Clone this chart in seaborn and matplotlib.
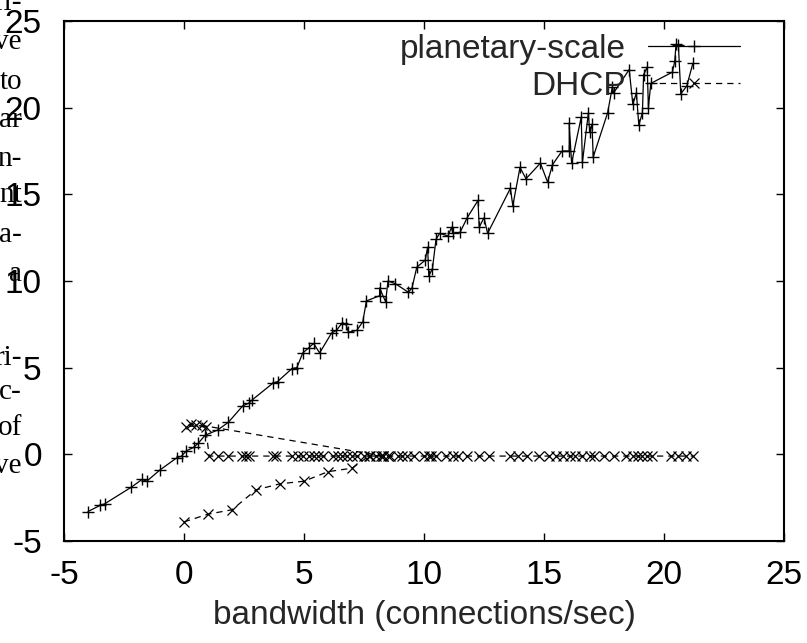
import matplotlib
matplotlib.use("Agg")
import matplotlib.pyplot as plt
import numpy as np
import pandas as pd
import seaborn as sns

# planetary-scale series in drawing order
plan_x = [-4.0, -3.5, -3.3, -2.2, -1.75, -1.55, -1.0, -0.3, -0.1, 0.1, 0.4, 0.6,
          0.88, 1.4, 1.85, 2.45, 2.7, 2.85, 3.7, 3.9, 4.5, 4.7, 4.95, 5.2, 5.4,
          5.65, 6.15, 6.35, 6.6, 6.75, 6.85, 7.2, 7.45, 7.6, 8.15, 8.15, 8.4, 8.5,
          8.8, 9.35, 9.5, 9.7, 10.05, 10.15, 10.2, 10.35, 10.5, 10.65, 11.0, 11.15,
          11.2, 11.5, 11.8, 12.25, 12.3, 12.5, 12.65, 13.6, 13.7, 14.0, 14.25,
          14.85, 15.15, 15.35, 15.75, 16.05, 16.05, 16.15, 16.55, 16.6, 16.85,
          16.9, 17.0, 17.05, 17.65, 17.85, 17.9, 18.55, 18.7, 18.85, 18.95, 19.1,
          19.15, 19.3, 19.35, 19.45, 20.35, 20.45, 20.5, 20.6, 20.7, 20.95, 21.2]
plan_y = [-3.3, -2.95, -2.85, -1.9, -1.45, -1.55, -0.9, -0.2, -0.1, 0.2, 0.4, 0.65,
          1.1, 1.4, 1.85, 2.8, 2.95, 3.15, 4.1, 4.2, 4.95, 5.0, 5.85, 6.15, 6.4,
          5.85, 7.0, 7.15, 7.6, 7.5, 7.05, 7.15, 7.65, 8.85, 9.15, 9.6, 8.8, 10.0,
          9.85, 9.35, 9.6, 10.8, 11.2, 11.95, 10.3, 10.7, 12.4, 12.75, 12.6, 13.1,
          12.75, 12.8, 13.65, 14.65, 13.1, 13.65, 12.75, 15.35, 14.35, 16.55, 15.9,
          16.8, 15.7, 16.7, 17.5, 17.5, 19.1, 16.8, 19.45, 16.85, 19.7, 18.6,
          19.05, 17.15, 19.7, 21.2, 20.85, 22.2, 20.2, 20.85, 19.0, 19.7, 21.9,
          22.35, 20.0, 21.4, 22.05, 22.7, 23.65, 23.6, 20.8, 21.25, 22.55]

# DHCP series: lower branch, jump back to the cluster near x=0, then the flat run
dhcp_x = [0.0, 1.0, 2.0, 3.0, 4.0, 5.0, 6.0, 7.0, 7.7, 8.3,
          0.75, 0.1, 0.3, 0.5, 0.9,
          1.05, 1.4, 1.85, 2.4, 2.6, 2.7, 3.7, 3.85, 4.5, 4.75, 4.95, 5.2, 5.4,
          5.6, 5.8, 6.2, 6.4, 6.6, 6.8, 7.0, 7.2, 7.5, 7.75, 8.0, 8.2, 8.3, 8.5,
          8.6, 8.9, 9.1, 9.3, 9.6, 10.0, 10.2, 10.3, 10.5, 10.9, 11.2, 11.4, 11.8,
          12.3, 12.7, 13.6, 13.9, 14.3, 14.8, 15.2, 15.5, 15.8, 16.1, 16.3, 16.6,
          16.9, 17.1, 17.5, 17.9, 18.4, 18.7, 18.9, 19.1, 19.3, 19.5, 20.3, 20.6,
          20.9, 21.2]
dhcp_y = [-3.9, -3.45, -3.2, -2.05, -1.7, -1.55, -1.0, -0.8, -0.1, -0.1,
          1.67, 1.6, 1.75, 1.7, 1.55] + [-0.1] * 66

sns.set_style("ticks")
plt.rcParams["font.family"] = ["Liberation Sans", "DejaVu Sans"]
plt.rcParams["axes.unicode_minus"] = False

fig = plt.figure(figsize=(8.07, 6.43), dpi=100)
ax = fig.add_axes([64 / 807, 102 / 643, 720 / 807, 520 / 643])

plan = pd.DataFrame({"x": plan_x, "y": plan_y})
dhcp = pd.DataFrame({"x": dhcp_x, "y": dhcp_y})

sns.lineplot(data=plan, x="x", y="y", sort=False, estimator=None, ax=ax,
             color="black", linewidth=0.9, marker="+", markersize=8,
             markeredgewidth=1.0, markeredgecolor="black",
             label="planetary-scale")
sns.lineplot(data=dhcp, x="x", y="y", sort=False, estimator=None, ax=ax,
             color="black", linewidth=0.9, linestyle=(0, (5, 4)), marker="x",
             markersize=6.5, markeredgewidth=0.9, markeredgecolor="black",
             label="DHCP")

ax.set_xlim(-5, 25)
ax.set_ylim(-5, 25)
ax.set_xticks(np.arange(-5, 26, 5))
ax.set_yticks(np.arange(-5, 26, 5))
ax.tick_params(direction="in", length=6, width=1.0, top=True, right=True,
               labelsize=24, colors="black")
ax.tick_params(axis="x", pad=14)
ax.tick_params(axis="y", pad=16)
for s in ax.spines.values():
    s.set_linewidth(1.5)
    s.set_color("black")
ax.set_xlabel("bandwidth (connections/sec)", fontsize=24, labelpad=6)
ax.set_ylabel("")

ax.legend(loc="upper right", bbox_to_anchor=(0.939, 0.975), frameon=False,
          markerfirst=False, handlelength=2.76, handletextpad=0.66,
          labelspacing=0.17, borderpad=0, borderaxespad=0, fontsize=24)

# fragments of the neighbouring page column, cut at the left edge
side_text = ["ri-", "ve", "to", "ar", "n-", "nt", "a-", "a", "ri-", "c-", "of", "ve"]
side_base = [10, 49, 89, 127, 166, 202, 242, 281, 365, 399, 435, 473]
for t, yb in zip(side_text, side_base):
    fig.text(22 / 807, 1 - yb / 643, t, ha="right", va="baseline",
             fontsize=21, family="Liberation Serif", color="black")

fig.savefig("out.png", dpi=100)
